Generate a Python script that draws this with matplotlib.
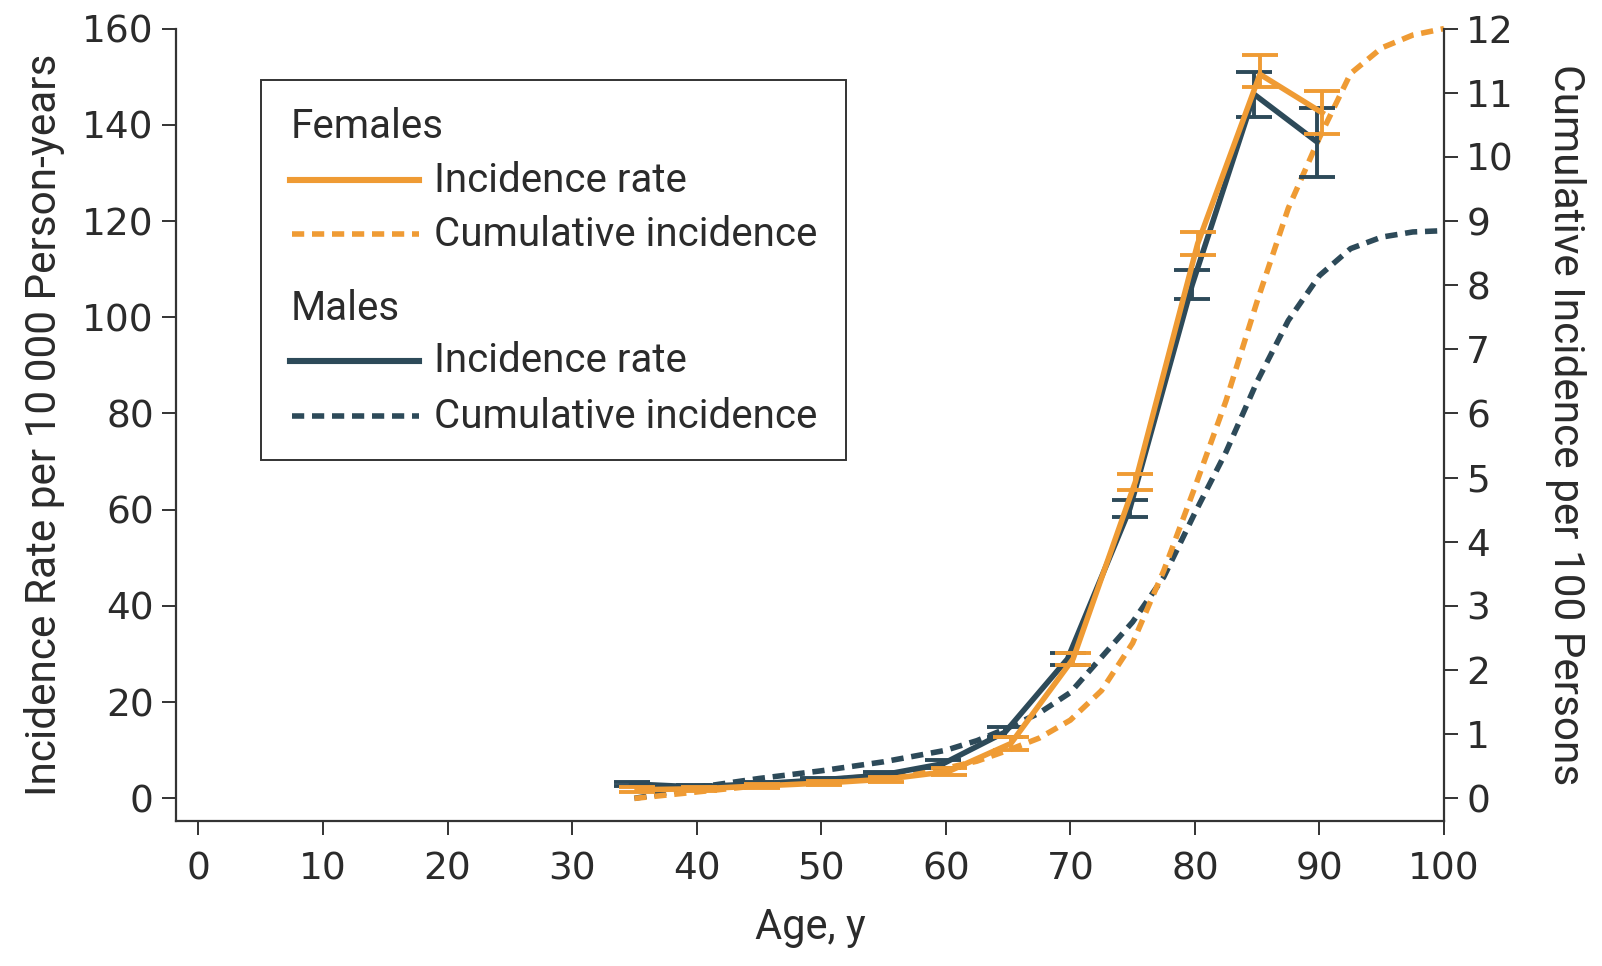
import matplotlib
matplotlib.use("Agg")
import matplotlib.pyplot as plt
import matplotlib.transforms as mtransforms
from matplotlib.lines import Line2D
from matplotlib.patches import Rectangle

# ---------------- data ----------------
ages = [35, 40, 45, 50, 55, 60, 65, 70, 75, 80, 85, 90]
f_rate = [1.8, 2.0, 2.6, 3.2, 4.0, 5.6, 11.4, 29.0, 65.8, 115.3, 150.5, 142.5]
f_lo = [1.3, 1.6, 2.2, 2.8, 3.5, 4.9, 10.0, 27.8, 64.1, 112.9, 147.9, 138.0]
f_hi = [2.3, 2.4, 3.0, 3.6, 4.5, 6.3, 12.8, 30.2, 67.5, 117.8, 154.5, 147.0]
m_rate = [3.0, 2.4, 3.0, 3.8, 4.8, 7.2, 13.8, 29.0, 60.2, 106.7, 146.3, 136.5]
m_lo = [2.5, 2.0, 2.6, 3.3, 4.2, 6.4, 12.8, 27.8, 58.4, 103.7, 141.7, 129.2]
m_hi = [3.5, 2.8, 3.4, 4.3, 5.4, 8.0, 14.8, 30.2, 62.0, 109.8, 150.9, 143.4]

cum_ages = [35, 40, 45, 50, 55, 60, 62.5, 65, 67.5, 70, 72.5, 75, 77.5, 80,
            82.5, 85, 87.5, 90, 92.5, 95, 97.5, 100]
f_cum = [0.0, 0.1, 0.2, 0.28, 0.36, 0.47, 0.58, 0.75, 0.94, 1.22, 1.68, 2.42,
         3.55, 4.85, 6.2, 7.75, 9.2, 10.3, 11.3, 11.7, 11.9, 12.0]
m_cum = [0.0, 0.17, 0.31, 0.43, 0.57, 0.75, 0.9, 1.1, 1.33, 1.65, 2.2, 2.75,
         3.45, 4.45, 5.4, 6.5, 7.45, 8.15, 8.57, 8.75, 8.83, 8.85]

x_ticks = [0, 10, 20, 30, 40, 50, 60, 70, 80, 90, 100]
y_ticks = [0, 20, 40, 60, 80, 100, 120, 140, 160]
y2_ticks = [0, 1, 2, 3, 4, 5, 6, 7, 8, 9, 10, 11, 12]

ORANGE = "#EF9B34"
NAVY = "#2D4A59"
TXT = "#2b2b2b"
COND = ["Liberation Sans Narrow", "Roboto", "DejaVu Sans"]

W, H = 1602, 966
fig = plt.figure(figsize=(W / 100, H / 100), dpi=100)
L, R, T, B = 176, 1444, 28.6, 821
ax = fig.add_axes([L / W, 1 - B / H, (R - L) / W, (B - T) / H])
ax2 = ax.twinx()

ax.set_xlim(-1.8, 100)
ax.set_ylim(-4.7, 160)
ax2.set_ylim(-4.7 * 12 / 160, 12)

DASH = (2.2, 1.4)
DLW = 4.0
# cumulative incidence (dashed), below
ax2.plot(cum_ages, m_cum, color=NAVY, lw=DLW, dashes=DASH, zorder=2,
         clip_on=False)
ax2.plot(cum_ages, f_cum, color=ORANGE, lw=DLW, dashes=DASH, zorder=2,
         clip_on=False)

ax.set_zorder(ax2.get_zorder() + 1)
ax.patch.set_visible(False)

off_m = mtransforms.offset_copy(ax.transData, fig=fig, x=-2, y=0, units="points")
off_f = mtransforms.offset_copy(ax.transData, fig=fig, x=2, y=0, units="points")

m_err = [[r - lo for r, lo in zip(m_rate, m_lo)], [hi - r for r, hi in zip(m_rate, m_hi)]]
f_err = [[r - lo for r, lo in zip(f_rate, f_lo)], [hi - r for r, hi in zip(f_rate, f_hi)]]

ax.errorbar(ages, m_rate, yerr=m_err, color=NAVY, lw=4.0, elinewidth=2.8,
            capsize=13, capthick=2.8, transform=off_m, zorder=3)
ax.errorbar(ages, f_rate, yerr=f_err, color=ORANGE, lw=4.0, elinewidth=2.8,
            capsize=13, capthick=2.8, transform=off_f, zorder=4)

# axes styling
for a in (ax, ax2):
    a.spines["top"].set_visible(False)
    for s in ("left", "right", "bottom"):
        a.spines[s].set_linewidth(1.6)
        a.spines[s].set_color("#333333")
    a.tick_params(direction="out", length=10, width=1.4, color="#333333",
                  labelsize=27, labelcolor=TXT, pad=6)
ax2.spines["left"].set_visible(False)
ax2.spines["bottom"].set_visible(False)
ax.spines["right"].set_visible(False)

ax.set_xticks(x_ticks)
ax.set_yticks(y_ticks)
ax2.set_yticks(y2_ticks)
ax.tick_params(axis="x", pad=12)

ax.set_xlabel("Age, y", fontsize=30, family=COND, color=TXT, labelpad=14)
ax.set_ylabel("Incidence Rate per 10\u2009000 Person-years", fontsize=30.5,
              family=COND, color=TXT, labelpad=12)
ax2.set_ylabel("Cumulative Incidence per 100 Persons", fontsize=30.5,
               family=COND, color=TXT, rotation=270, labelpad=52)

# ---------------- legend (manual) ----------------
def fx(x):
    return x / W

def fy(y):
    return 1 - y / H

fig.patches.append(Rectangle((fx(261), fy(460)), fx(846) - fx(261), fy(80) - fy(460),
                             transform=fig.transFigure, fill=False,
                             edgecolor="#333333", lw=1.4))
entries = [
    ("head", "Females", None, 126),
    ("solid", "Incidence rate", ORANGE, 180),
    ("dash", "Cumulative incidence", ORANGE, 234),
    ("head", "Males", None, 308),
    ("solid", "Incidence rate", NAVY, 361),
    ("dash", "Cumulative incidence", NAVY, 416),
]
for kind, label, col, yy in entries:
    if kind == "head":
        fig.text(fx(291), fy(yy), label, fontsize=29, family=COND, color=TXT,
                 va="center", ha="left")
    else:
        if kind == "solid":
            ln = Line2D([fx(290), fx(419)], [fy(yy), fy(yy)], color=col, lw=4.4,
                        transform=fig.transFigure)
        else:
            ln = Line2D([fx(292), fx(419)], [fy(yy), fy(yy)], color=col, lw=DLW,
                        dashes=DASH, transform=fig.transFigure)
        fig.lines.append(ln)
        fig.text(fx(434), fy(yy), label, fontsize=29, family=COND, color=TXT,
                 va="center", ha="left")

fig.savefig("out.png", dpi=100)
